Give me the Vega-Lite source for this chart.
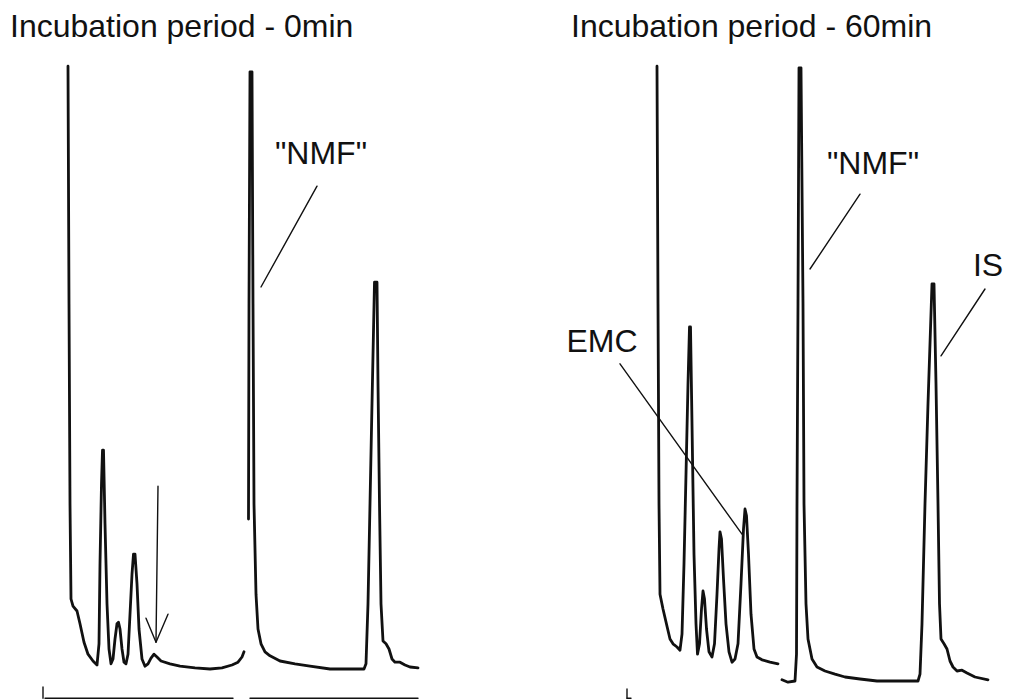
{
  "$schema": "https://vega.github.io/schema/vega-lite/v6.json",
  "background": "white",
  "padding": {"left": 10, "top": 11, "right": 0, "bottom": 0},
  "spacing": 55,
  "config": {
    "view": {"stroke": null},
    "title": {"font": "Liberation Sans, Arial, sans-serif", "fontSize": 32, "fontWeight": "normal", "color": "#111", "anchor": "start", "baseline": "alphabetic", "offset": 15},
    "line": {"color": "#111", "strokeJoin": "round", "strokeCap": "round"},
    "text": {"font": "Liberation Sans, Arial, sans-serif", "fontSize": 32, "color": "#111"}
  },
  "datasets": {
    "traces": [
      {"panel": "0min", "series": "A1", "t": 1.9, "r": 79.1},
      {"panel": "0min", "series": "A1", "t": 1.95, "r": 49.4},
      {"panel": "0min", "series": "A1", "t": 2.0, "r": 24.4},
      {"panel": "0min", "series": "A1", "t": 2.05, "r": 12.5},
      {"panel": "0min", "series": "A1", "t": 2.15, "r": 11.6},
      {"panel": "0min", "series": "A1", "t": 2.35, "r": 11.0},
      {"panel": "0min", "series": "A1", "t": 2.5, "r": 9.4},
      {"panel": "0min", "series": "A1", "t": 2.7, "r": 7.1},
      {"panel": "0min", "series": "A1", "t": 2.9, "r": 5.6},
      {"panel": "0min", "series": "A1", "t": 3.15, "r": 4.75},
      {"panel": "0min", "series": "A1", "t": 3.35, "r": 4.25},
      {"panel": "0min", "series": "A1", "t": 3.45, "r": 6.9},
      {"panel": "0min", "series": "A1", "t": 3.5, "r": 16.9},
      {"panel": "0min", "series": "A1", "t": 3.575, "r": 26.9},
      {"panel": "0min", "series": "A1", "t": 3.625, "r": 31.1},
      {"panel": "0min", "series": "A1", "t": 3.675, "r": 31.1},
      {"panel": "0min", "series": "A1", "t": 3.75, "r": 21.9},
      {"panel": "0min", "series": "A1", "t": 3.85, "r": 11.9},
      {"panel": "0min", "series": "A1", "t": 3.95, "r": 6.25},
      {"panel": "0min", "series": "A1", "t": 4.05, "r": 4.4},
      {"panel": "0min", "series": "A1", "t": 4.15, "r": 5.0},
      {"panel": "0min", "series": "A1", "t": 4.25, "r": 7.5},
      {"panel": "0min", "series": "A1", "t": 4.35, "r": 9.4},
      {"panel": "0min", "series": "A1", "t": 4.425, "r": 9.6},
      {"panel": "0min", "series": "A1", "t": 4.5, "r": 8.75},
      {"panel": "0min", "series": "A1", "t": 4.6, "r": 6.25},
      {"panel": "0min", "series": "A1", "t": 4.7, "r": 4.6},
      {"panel": "0min", "series": "A1", "t": 4.8, "r": 4.4},
      {"panel": "0min", "series": "A1", "t": 4.9, "r": 5.6},
      {"panel": "0min", "series": "A1", "t": 5.0, "r": 10.6},
      {"panel": "0min", "series": "A1", "t": 5.1, "r": 15.6},
      {"panel": "0min", "series": "A1", "t": 5.175, "r": 18.1},
      {"panel": "0min", "series": "A1", "t": 5.25, "r": 18.1},
      {"panel": "0min", "series": "A1", "t": 5.35, "r": 14.4},
      {"panel": "0min", "series": "A1", "t": 5.45, "r": 8.75},
      {"panel": "0min", "series": "A1", "t": 5.6, "r": 5.0},
      {"panel": "0min", "series": "A1", "t": 5.75, "r": 4.1},
      {"panel": "0min", "series": "A1", "t": 5.9, "r": 4.4},
      {"panel": "0min", "series": "A1", "t": 6.05, "r": 5.1},
      {"panel": "0min", "series": "A1", "t": 6.2, "r": 5.6},
      {"panel": "0min", "series": "A1", "t": 6.35, "r": 5.25},
      {"panel": "0min", "series": "A1", "t": 6.55, "r": 4.75},
      {"panel": "0min", "series": "A1", "t": 7.0, "r": 4.4},
      {"panel": "0min", "series": "A1", "t": 7.5, "r": 4.1},
      {"panel": "0min", "series": "A1", "t": 8.25, "r": 3.9},
      {"panel": "0min", "series": "A1", "t": 9.0, "r": 3.75},
      {"panel": "0min", "series": "A1", "t": 9.6, "r": 3.9},
      {"panel": "0min", "series": "A1", "t": 10.1, "r": 4.25},
      {"panel": "0min", "series": "A1", "t": 10.4, "r": 4.6},
      {"panel": "0min", "series": "A1", "t": 10.6, "r": 5.25},
      {"panel": "0min", "series": "A1", "t": 10.7, "r": 5.9},
      {"panel": "0min", "series": "A2", "t": 10.925, "r": 22.5},
      {"panel": "0min", "series": "A2", "t": 10.95, "r": 49.4},
      {"panel": "0min", "series": "A2", "t": 11.0, "r": 78.4},
      {"panel": "0min", "series": "A2", "t": 11.1, "r": 78.4},
      {"panel": "0min", "series": "A2", "t": 11.15, "r": 49.4},
      {"panel": "0min", "series": "A2", "t": 11.2, "r": 24.4},
      {"panel": "0min", "series": "A2", "t": 11.3, "r": 13.1},
      {"panel": "0min", "series": "A2", "t": 11.4, "r": 8.75},
      {"panel": "0min", "series": "A2", "t": 11.55, "r": 6.9},
      {"panel": "0min", "series": "A2", "t": 11.75, "r": 5.9},
      {"panel": "0min", "series": "A2", "t": 12.0, "r": 5.4},
      {"panel": "0min", "series": "A2", "t": 12.5, "r": 4.75},
      {"panel": "0min", "series": "A2", "t": 13.25, "r": 4.4},
      {"panel": "0min", "series": "A2", "t": 14.0, "r": 4.1},
      {"panel": "0min", "series": "A2", "t": 15.0, "r": 3.75},
      {"panel": "0min", "series": "A2", "t": 16.0, "r": 3.75},
      {"panel": "0min", "series": "A2", "t": 16.7, "r": 3.75},
      {"panel": "0min", "series": "A2", "t": 16.8, "r": 4.4},
      {"panel": "0min", "series": "A2", "t": 16.9, "r": 11.9},
      {"panel": "0min", "series": "A2", "t": 17.0, "r": 24.4},
      {"panel": "0min", "series": "A2", "t": 17.1, "r": 36.9},
      {"panel": "0min", "series": "A2", "t": 17.225, "r": 52.1},
      {"panel": "0min", "series": "A2", "t": 17.35, "r": 52.1},
      {"panel": "0min", "series": "A2", "t": 17.4, "r": 39.4},
      {"panel": "0min", "series": "A2", "t": 17.475, "r": 24.4},
      {"panel": "0min", "series": "A2", "t": 17.55, "r": 11.9},
      {"panel": "0min", "series": "A2", "t": 17.65, "r": 7.25},
      {"panel": "0min", "series": "A2", "t": 17.8, "r": 6.9},
      {"panel": "0min", "series": "A2", "t": 17.95, "r": 6.25},
      {"panel": "0min", "series": "A2", "t": 18.1, "r": 5.0},
      {"panel": "0min", "series": "A2", "t": 18.25, "r": 4.6},
      {"panel": "0min", "series": "A2", "t": 18.5, "r": 4.6},
      {"panel": "0min", "series": "A2", "t": 18.75, "r": 4.25},
      {"panel": "0min", "series": "A2", "t": 19.0, "r": 4.0},
      {"panel": "0min", "series": "A2", "t": 19.4, "r": 3.9},
      {"panel": "60min", "series": "B1", "t": 4.6, "r": 79.1},
      {"panel": "60min", "series": "B1", "t": 4.65, "r": 49.4},
      {"panel": "60min", "series": "B1", "t": 4.7, "r": 24.4},
      {"panel": "60min", "series": "B1", "t": 4.75, "r": 13.1},
      {"panel": "60min", "series": "B1", "t": 4.9, "r": 11.25},
      {"panel": "60min", "series": "B1", "t": 5.1, "r": 9.1},
      {"panel": "60min", "series": "B1", "t": 5.25, "r": 7.5},
      {"panel": "60min", "series": "B1", "t": 5.4, "r": 6.9},
      {"panel": "60min", "series": "B1", "t": 5.6, "r": 6.5},
      {"panel": "60min", "series": "B1", "t": 5.75, "r": 6.1},
      {"panel": "60min", "series": "B1", "t": 5.85, "r": 8.1},
      {"panel": "60min", "series": "B1", "t": 5.95, "r": 16.9},
      {"panel": "60min", "series": "B1", "t": 6.05, "r": 28.1},
      {"panel": "60min", "series": "B1", "t": 6.15, "r": 39.4},
      {"panel": "60min", "series": "B1", "t": 6.225, "r": 46.5},
      {"panel": "60min", "series": "B1", "t": 6.275, "r": 46.5},
      {"panel": "60min", "series": "B1", "t": 6.35, "r": 34.4},
      {"panel": "60min", "series": "B1", "t": 6.45, "r": 18.1},
      {"panel": "60min", "series": "B1", "t": 6.55, "r": 9.4},
      {"panel": "60min", "series": "B1", "t": 6.625, "r": 5.6},
      {"panel": "60min", "series": "B1", "t": 6.725, "r": 6.9},
      {"panel": "60min", "series": "B1", "t": 6.825, "r": 11.25},
      {"panel": "60min", "series": "B1", "t": 6.9, "r": 13.5},
      {"panel": "60min", "series": "B1", "t": 6.975, "r": 12.5},
      {"panel": "60min", "series": "B1", "t": 7.075, "r": 8.75},
      {"panel": "60min", "series": "B1", "t": 7.2, "r": 5.9},
      {"panel": "60min", "series": "B1", "t": 7.35, "r": 5.25},
      {"panel": "60min", "series": "B1", "t": 7.475, "r": 6.9},
      {"panel": "60min", "series": "B1", "t": 7.6, "r": 13.1},
      {"panel": "60min", "series": "B1", "t": 7.7, "r": 18.75},
      {"panel": "60min", "series": "B1", "t": 7.75, "r": 20.9},
      {"panel": "60min", "series": "B1", "t": 7.825, "r": 20.0},
      {"panel": "60min", "series": "B1", "t": 7.925, "r": 15.0},
      {"panel": "60min", "series": "B1", "t": 8.05, "r": 9.4},
      {"panel": "60min", "series": "B1", "t": 8.2, "r": 5.9},
      {"panel": "60min", "series": "B1", "t": 8.35, "r": 4.6},
      {"panel": "60min", "series": "B1", "t": 8.5, "r": 5.0},
      {"panel": "60min", "series": "B1", "t": 8.65, "r": 6.9},
      {"panel": "60min", "series": "B1", "t": 8.8, "r": 14.4},
      {"panel": "60min", "series": "B1", "t": 8.925, "r": 21.25},
      {"panel": "60min", "series": "B1", "t": 9.0, "r": 23.75},
      {"panel": "60min", "series": "B1", "t": 9.075, "r": 22.9},
      {"panel": "60min", "series": "B1", "t": 9.175, "r": 18.1},
      {"panel": "60min", "series": "B1", "t": 9.3, "r": 10.6},
      {"panel": "60min", "series": "B1", "t": 9.45, "r": 6.25},
      {"panel": "60min", "series": "B1", "t": 9.6, "r": 5.25},
      {"panel": "60min", "series": "B1", "t": 9.85, "r": 4.9},
      {"panel": "60min", "series": "B1", "t": 10.25, "r": 4.6},
      {"panel": "60min", "series": "B1", "t": 10.65, "r": 4.4},
      {"panel": "60min", "series": "B2", "t": 10.85, "r": 2.4},
      {"panel": "60min", "series": "B2", "t": 11.15, "r": 2.1},
      {"panel": "60min", "series": "B2", "t": 11.5, "r": 2.25},
      {"panel": "60min", "series": "B2", "t": 11.575, "r": 5.6},
      {"panel": "60min", "series": "B2", "t": 11.6, "r": 24.4},
      {"panel": "60min", "series": "B2", "t": 11.65, "r": 49.4},
      {"panel": "60min", "series": "B2", "t": 11.7, "r": 78.9},
      {"panel": "60min", "series": "B2", "t": 11.8, "r": 78.9},
      {"panel": "60min", "series": "B2", "t": 11.9, "r": 49.4},
      {"panel": "60min", "series": "B2", "t": 11.95, "r": 24.4},
      {"panel": "60min", "series": "B2", "t": 12.05, "r": 11.9},
      {"panel": "60min", "series": "B2", "t": 12.15, "r": 7.5},
      {"panel": "60min", "series": "B2", "t": 12.35, "r": 5.0},
      {"panel": "60min", "series": "B2", "t": 12.6, "r": 4.0},
      {"panel": "60min", "series": "B2", "t": 13.0, "r": 3.5},
      {"panel": "60min", "series": "B2", "t": 13.5, "r": 3.1},
      {"panel": "60min", "series": "B2", "t": 14.0, "r": 2.75},
      {"panel": "60min", "series": "B2", "t": 14.75, "r": 2.5},
      {"panel": "60min", "series": "B2", "t": 15.6, "r": 2.25},
      {"panel": "60min", "series": "B2", "t": 16.75, "r": 2.25},
      {"panel": "60min", "series": "B2", "t": 17.65, "r": 2.25},
      {"panel": "60min", "series": "B2", "t": 17.75, "r": 3.1},
      {"panel": "60min", "series": "B2", "t": 17.85, "r": 9.4},
      {"panel": "60min", "series": "B2", "t": 18.0, "r": 24.4},
      {"panel": "60min", "series": "B2", "t": 18.15, "r": 36.9},
      {"panel": "60min", "series": "B2", "t": 18.35, "r": 51.9},
      {"panel": "60min", "series": "B2", "t": 18.45, "r": 51.9},
      {"panel": "60min", "series": "B2", "t": 18.55, "r": 39.4},
      {"panel": "60min", "series": "B2", "t": 18.65, "r": 24.4},
      {"panel": "60min", "series": "B2", "t": 18.725, "r": 11.9},
      {"panel": "60min", "series": "B2", "t": 18.8, "r": 7.5},
      {"panel": "60min", "series": "B2", "t": 18.95, "r": 6.9},
      {"panel": "60min", "series": "B2", "t": 19.1, "r": 6.25},
      {"panel": "60min", "series": "B2", "t": 19.25, "r": 4.75},
      {"panel": "60min", "series": "B2", "t": 19.4, "r": 4.0},
      {"panel": "60min", "series": "B2", "t": 19.6, "r": 3.5},
      {"panel": "60min", "series": "B2", "t": 19.85, "r": 3.6},
      {"panel": "60min", "series": "B2", "t": 20.1, "r": 3.25},
      {"panel": "60min", "series": "B2", "t": 20.5, "r": 2.75},
      {"panel": "60min", "series": "B2", "t": 21.15, "r": 2.4}
    ],
    "marks": [
      {"panel": "0min", "seg": "arrow", "t": 6.4, "r": 26.6},
      {"panel": "0min", "seg": "arrow", "t": 6.3, "r": 7.1},
      {"panel": "0min", "seg": "head", "t": 5.8, "r": 10.1},
      {"panel": "0min", "seg": "head", "t": 6.3, "r": 7.1},
      {"panel": "0min", "seg": "head", "t": 6.9, "r": 10.6},
      {"panel": "0min", "seg": "nmf", "t": 14.35, "r": 64.1},
      {"panel": "0min", "seg": "nmf", "t": 11.55, "r": 51.5},
      {"panel": "0min", "seg": "tick", "t": 0.65, "r": 1.5},
      {"panel": "0min", "seg": "tick", "t": 0.65, "r": 0.1},
      {"panel": "0min", "seg": "bar1", "t": 0.75, "r": 0.1},
      {"panel": "0min", "seg": "bar1", "t": 10.15, "r": 0.1},
      {"panel": "0min", "seg": "bar2", "t": 11.0, "r": 0.1},
      {"panel": "0min", "seg": "bar2", "t": 19.4, "r": 0.1},
      {"panel": "60min", "seg": "nmf", "t": 14.75, "r": 63.1},
      {"panel": "60min", "seg": "nmf", "t": 12.25, "r": 53.75},
      {"panel": "60min", "seg": "is", "t": 21.0, "r": 51.25},
      {"panel": "60min", "seg": "is", "t": 18.8, "r": 42.9},
      {"panel": "60min", "seg": "emc", "t": 2.75, "r": 41.9},
      {"panel": "60min", "seg": "emc", "t": 8.85, "r": 20.6},
      {"panel": "60min", "seg": "tick", "t": 3.1, "r": 1.25},
      {"panel": "60min", "seg": "tick", "t": 3.1, "r": 0.1},
      {"panel": "60min", "seg": "foot", "t": 3.1, "r": 0.1},
      {"panel": "60min", "seg": "foot", "t": 3.3, "r": 0.1}
    ],
    "labels": [
      {"panel": "0min", "label": "\"NMF\"", "t": 14.55, "r": 68.1},
      {"panel": "60min", "label": "\"NMF\"", "t": 15.4, "r": 66.9},
      {"panel": "60min", "label": "IS", "t": 21.15, "r": 54.1},
      {"panel": "60min", "label": "EMC", "t": 1.85, "r": 44.6}
    ]
  },
  "hconcat": [
    {
      "width": 480,
      "height": 640,
      "title": {"text": "Incubation period - 0min", "dx": -20},
      "layer": [
        {
          "data": {"name": "traces"},
          "transform": [{"filter": "datum.panel === '0min'"}],
          "mark": {"type": "line", "strokeWidth": 2.8},
          "encoding": {
            "x": {"field": "t", "type": "quantitative", "scale": {"domain": [0, 24]}, "axis": null},
            "y": {"field": "r", "type": "quantitative", "scale": {"domain": [0, 80]}, "axis": null},
            "detail": {"field": "series"}
          }
        },
        {
          "data": {"name": "marks"},
          "transform": [{"filter": "datum.panel === '0min'"}],
          "mark": {"type": "line", "strokeWidth": 1.4},
          "encoding": {
            "x": {"field": "t", "type": "quantitative", "scale": {"domain": [0, 24]}, "axis": null},
            "y": {"field": "r", "type": "quantitative", "scale": {"domain": [0, 80]}, "axis": null},
            "detail": {"field": "seg"}
          }
        },
        {
          "data": {"name": "labels"},
          "transform": [{"filter": "datum.panel === '0min'"}],
          "mark": {"type": "text", "baseline": "middle", "align": "center"},
          "encoding": {
            "x": {"field": "t", "type": "quantitative", "scale": {"domain": [0, 24]}, "axis": null},
            "y": {"field": "r", "type": "quantitative", "scale": {"domain": [0, 80]}, "axis": null},
            "text": {"field": "label"}
          }
        }
      ]
    },
    {
      "width": 440,
      "height": 640,
      "title": {"text": "Incubation period - 60min", "dx": 6},
      "layer": [
        {
          "data": {"name": "traces"},
          "transform": [{"filter": "datum.panel === '60min'"}],
          "mark": {"type": "line", "strokeWidth": 2.8},
          "encoding": {
            "x": {"field": "t", "type": "quantitative", "scale": {"domain": [0, 22]}, "axis": null},
            "y": {"field": "r", "type": "quantitative", "scale": {"domain": [0, 80]}, "axis": null},
            "detail": {"field": "series"}
          }
        },
        {
          "data": {"name": "marks"},
          "transform": [{"filter": "datum.panel === '60min'"}],
          "mark": {"type": "line", "strokeWidth": 1.4},
          "encoding": {
            "x": {"field": "t", "type": "quantitative", "scale": {"domain": [0, 22]}, "axis": null},
            "y": {"field": "r", "type": "quantitative", "scale": {"domain": [0, 80]}, "axis": null},
            "detail": {"field": "seg"}
          }
        },
        {
          "data": {"name": "labels"},
          "transform": [{"filter": "datum.panel === '60min'"}],
          "mark": {"type": "text", "baseline": "middle", "align": "center"},
          "encoding": {
            "x": {"field": "t", "type": "quantitative", "scale": {"domain": [0, 22]}, "axis": null},
            "y": {"field": "r", "type": "quantitative", "scale": {"domain": [0, 80]}, "axis": null},
            "text": {"field": "label"}
          }
        }
      ]
    }
  ]
}
